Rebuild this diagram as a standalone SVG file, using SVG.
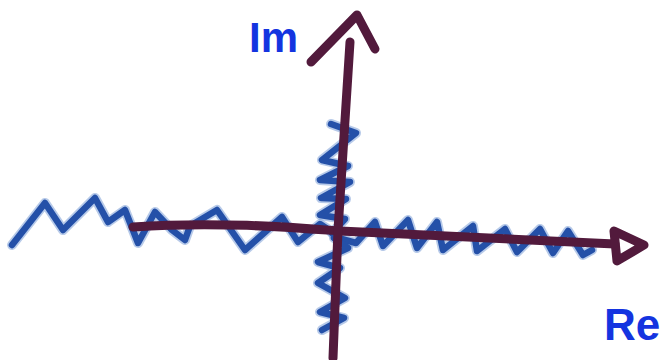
<svg xmlns="http://www.w3.org/2000/svg" width="663" height="360" viewBox="0 0 663 360">
<style>
.halo{fill:none;stroke:#6f95d4;stroke-width:10;stroke-linejoin:round;stroke-linecap:round;opacity:0.5}
.wave{fill:none;stroke:#2450a8;stroke-width:6.5;stroke-linejoin:round;stroke-linecap:round}
.axis{fill:none;stroke:#521a3c;stroke-width:9;stroke-linecap:round;stroke-linejoin:round}
.lbl{font-family:"Liberation Sans",Arial,sans-serif;font-weight:bold;fill:#1434e0}
</style>
<rect width="663" height="360" fill="#ffffff"/>
<defs>
<path id="wl" d="M12,245 L45,203 L63,230 L95,198 L108,222 L125,210 L138,243 L155,212 L172,230 L185,240 L190,226 L217,210 L245,250 L282,217 L298,242 L320,224 L332,232"/>
<path id="wr" d="M338,238 L356,243 L375,222 L383,246 L408,220 L417,248 L437,222 L443,250 L473,226 L477,251 L505,229 L517,252 L540,229 L553,253 L568,231 L583,255 L592,250"/>
<path id="wu" d="M331,124 L356,133 L322,160 L348,166 L320,180 L350,182 L321,198 L346,199 L320,215 L345,219 L332,233"/>
<path id="wd" d="M334,238 L348,248 L318,262 L340,268 L318,283 L345,298 L320,312 L344,318 L322,330"/>
</defs>
<g id="branch-cuts">
<use href="#wl" class="halo"/><use href="#wr" class="halo"/><use href="#wu" class="halo"/><use href="#wd" class="halo"/>
<use href="#wl" class="wave"/><use href="#wr" class="wave"/><use href="#wu" class="wave"/><use href="#wd" class="wave"/>
</g>
<g id="axes">
<path id="real-axis" class="axis" d="M133,227 C220,221 300,228 340,231 L615,244"/>
<path id="real-arrow" class="axis" stroke-width="8" d="M614,231 L644,245 L617,261 Z"/>
<path id="imag-axis" class="axis" stroke="#4a1842" stroke-width="8" d="M350,42 L338,230 L333,358"/>
<path id="imag-arrow" class="axis" stroke="#231a22" stroke-width="10" d="M311,62 L357,15 L375,49"/>
</g>
<g id="labels">
<text class="lbl" x="249" y="52" font-size="42">Im</text>
<text class="lbl" x="604" y="340" font-size="44">Re</text>
</g>
</svg>
